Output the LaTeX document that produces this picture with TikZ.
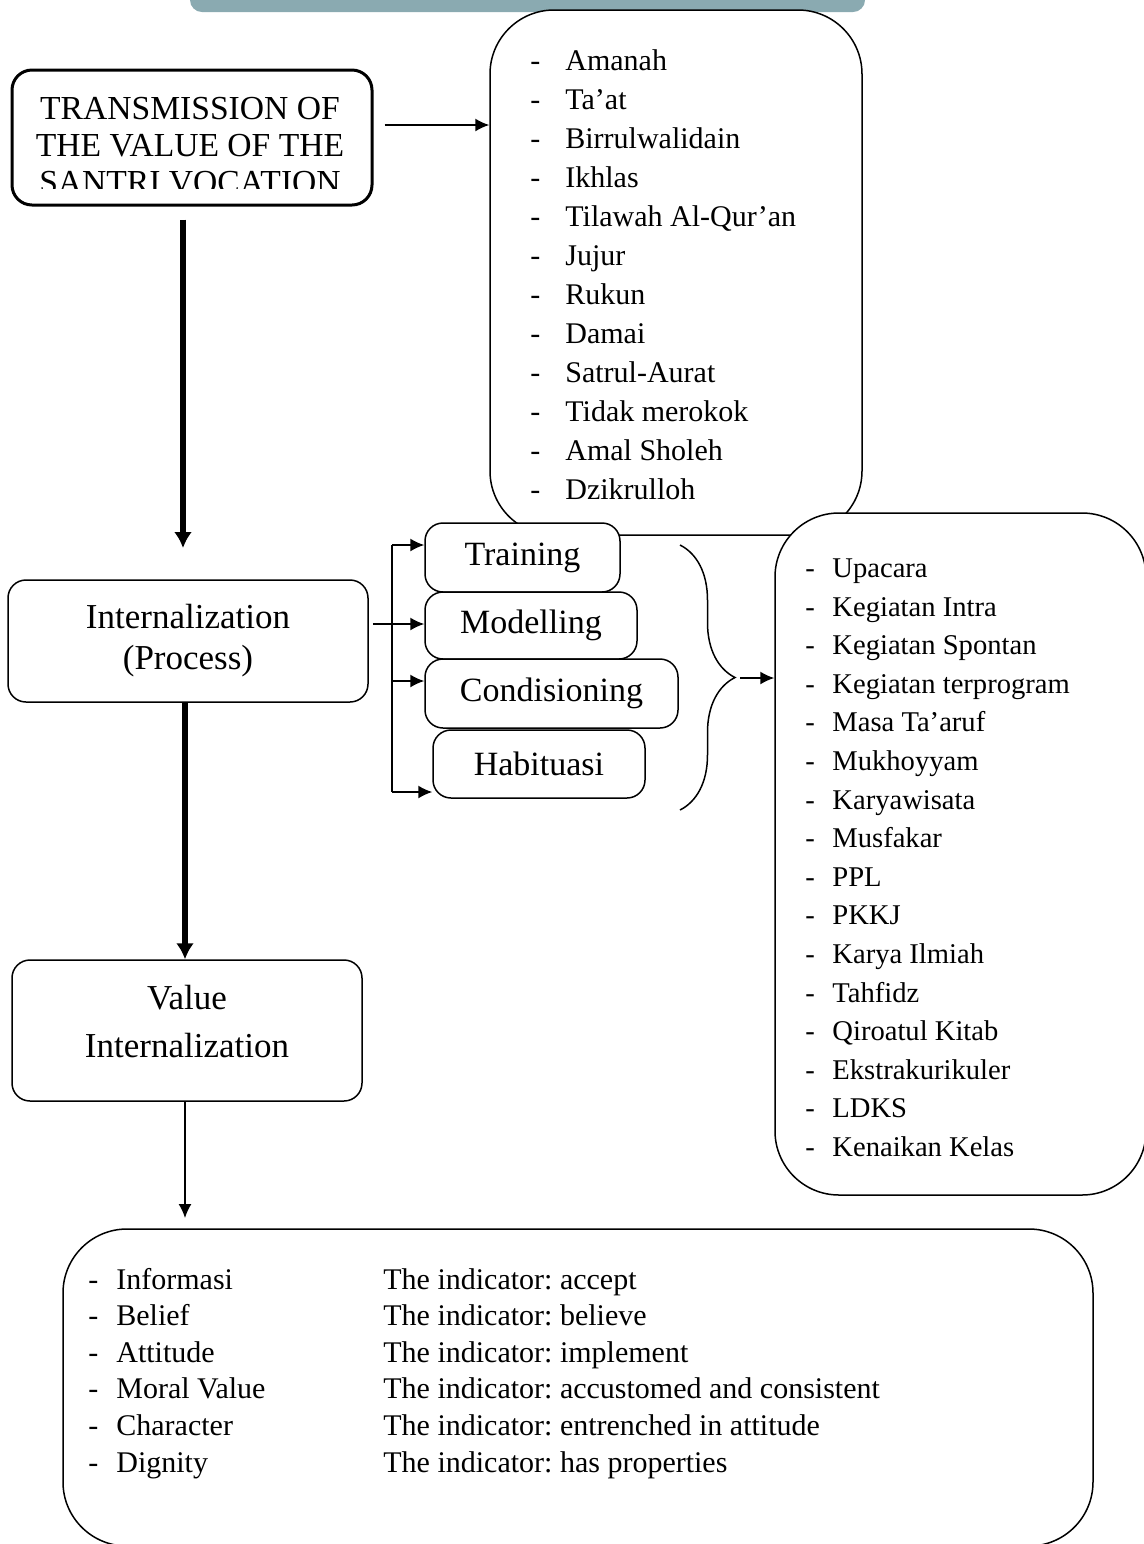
\documentclass[tikz,border=0pt]{standalone}
\usepackage{fontspec}
\setmainfont{Liberation Serif}
\usetikzlibrary{arrows.meta,decorations.pathreplacing}

\definecolor{headbar}{RGB}{138,170,177}
\tikzset{
  box/.style={rectangle,draw=black,line width=.75pt,rounded corners=9pt,fill=white,inner sep=0pt},
  bigbox/.style={box,rounded corners=32pt},
  thinarrow/.style={line width=.75pt,-{Latex[length=7pt,width=6.5pt]}},
  thickarrow/.style={line width=2.6pt,-{Latex[length=8pt,width=9pt]}}
}
\frenchspacing

\begin{document}
\begin{tikzpicture}[x=0.5pt,y=-0.5pt]
    \useasboundingbox (0,0) rectangle (1144,1544);
    % bar at the top of the page
    \fill[headbar,rounded corners=6pt] (190,-20) rectangle (865,12);

    \node (trans) at (192,137.5) [box,line width=1.5pt,rounded corners=10pt,minimum width=180pt,minimum height=67.5pt] {};
    \begin{scope}
      \clip (0,0) rectangle (1144,188);
      \node (transtext) at (190,146) [align=center,inner sep=0pt,font=\fontsize{16.8}{18.5}\selectfont] {TRANSMISSION OF\\THE VALUE OF THE\\SANTRI VOCATION};
    \end{scope}

    \node (vals) at (676,272.5) [bigbox,minimum width=186pt,minimum height=262.5pt] {};
    \node (valslist) at (530,43) [anchor=north west,inner sep=0pt,font=\fontsize{15}{19.5}\selectfont]
      {\begin{tabular}{@{}l@{\hspace{12.5pt}}l@{}}
        - & Amanah\\ - & Ta’at\\ - & Birrulwalidain\\ - & Ikhlas\\
        - & Tilawah Al-Qur’an\\ - & Jujur\\ - & Rukun\\ - & Damai\\
        - & Satrul-Aurat\\ - & Tidak merokok\\ - & Amal Sholeh\\ - & Dzikrulloh
      \end{tabular}};

    \node (intern) at (188,641) [box,minimum width=180pt,minimum height=61pt,align=center,font=\fontsize{17.5}{20.5}\selectfont] {Internalization\\(Process)};

    \node (training) at (522.5,557.5) [box,minimum width=97.5pt,minimum height=34.5pt,font=\fontsize{17}{20}\selectfont] {Training};
    \node (modelling) at (531,625.5) [box,minimum width=106pt,minimum height=33.5pt,font=\fontsize{17}{20}\selectfont] {Modelling};
    \node (condis) at (551.5,693.5) [box,minimum width=126.5pt,minimum height=34.5pt,font=\fontsize{17}{20}\selectfont] {Condisioning};
    \node (habit) at (539,764) [box,minimum width=106pt,minimum height=34pt,font=\fontsize{17}{20}\selectfont] {Habituasi};

    \node (acts) at (960.5,854) [bigbox,minimum width=185.5pt,minimum height=341pt] {};
    \node (actslist) at (805,550) [anchor=north west,inner sep=0pt,font=\fontsize{14.3}{19.3}\selectfont]
      {\begin{tabular}{@{}l@{\hspace{8.75pt}}l@{}}
        - & Upacara\\ - & Kegiatan Intra\\ - & Kegiatan Spontan\\ - & Kegiatan terprogram\\
        - & Masa Ta’aruf\\ - & Mukhoyyam\\ - & Karyawisata\\ - & Musfakar\\
        - & PPL\\ - & PKKJ\\ - & Karya Ilmiah\\ - & Tahfidz\\
        - & Qiroatul Kitab\\ - & Ekstrakurikuler\\ - & LDKS\\ - & Kenaikan Kelas
      \end{tabular}};

    \node (valint) at (187,1030.5) [box,minimum width=175pt,minimum height=70.5pt] {};
    \node (valinttext) at (187,1022) [align=center,inner sep=0pt,font=\fontsize{17.5}{24}\selectfont] {Value\\Internalization};

    \node (indic) at (578,1387.5) [bigbox,minimum width=515pt,minimum height=158.5pt] {};
    \node (indiclist) at (88,1263) [anchor=north west,inner sep=0pt,font=\fontsize{15}{18.3}\selectfont]
      {\begin{tabular}{@{}l@{\hspace{9pt}}p{133.5pt}@{}l@{}}
        - & Informasi & The indicator: accept\\
        - & Belief & The indicator: believe\\
        - & Attitude & The indicator: implement\\
        - & Moral Value & The indicator: accustomed and consistent\\
        - & Character & The indicator: entrenched in attitude\\
        - & Dignity & The indicator: has properties
      \end{tabular}};

    % points where the arrows stop short
    \coordinate (interntip) at (183,548);
    \coordinate (trunktop) at (392,545);
    \coordinate (trunkmid) at (392,624);
    \coordinate (trunkcon) at (392,681);
    \coordinate (trunkbot) at (392,792);
    \coordinate (bracetop) at (680,545);
    \coordinate (bracebot) at (680,810);
    \coordinate (bracetip) at (740,678);
    \coordinate (indictip) at (185,1218);

    \draw[thinarrow] ([xshift=5.5pt,yshift=6.25pt]trans.east) -- ([yshift=73.75pt]vals.west);
    \draw[thickarrow] ([xshift=-4.5pt,yshift=-6.5pt]trans.south) -- (interntip);
    \draw[line width=.75pt] ([xshift=2pt,yshift=8.5pt]intern.east) -- (trunkmid);
    \draw[line width=.75pt] (trunktop) -- (trunkbot);
    \draw[thinarrow] (trunktop) -- ([yshift=6.25pt]training.west);
    \draw[thinarrow] (trunkmid) -- ([yshift=0.75pt]modelling.west);
    \draw[thinarrow] (trunkcon) -- ([yshift=6.25pt]condis.west);
    \draw[thinarrow] (trunkbot) -- ([yshift=-14pt]habit.west);
    \draw[line width=.75pt,decorate,decoration={brace,amplitude=27.5pt}] (bracetop) -- (bracebot);
    \draw[thinarrow] (bracetip) -- ([yshift=88pt]acts.west);
    \draw[thickarrow] ([xshift=-1.5pt]intern.south) -- ([xshift=-1pt]valint.north);
    \draw[thinarrow] ([xshift=-1pt]valint.south) -- (indictip);
\end{tikzpicture}
\end{document}
